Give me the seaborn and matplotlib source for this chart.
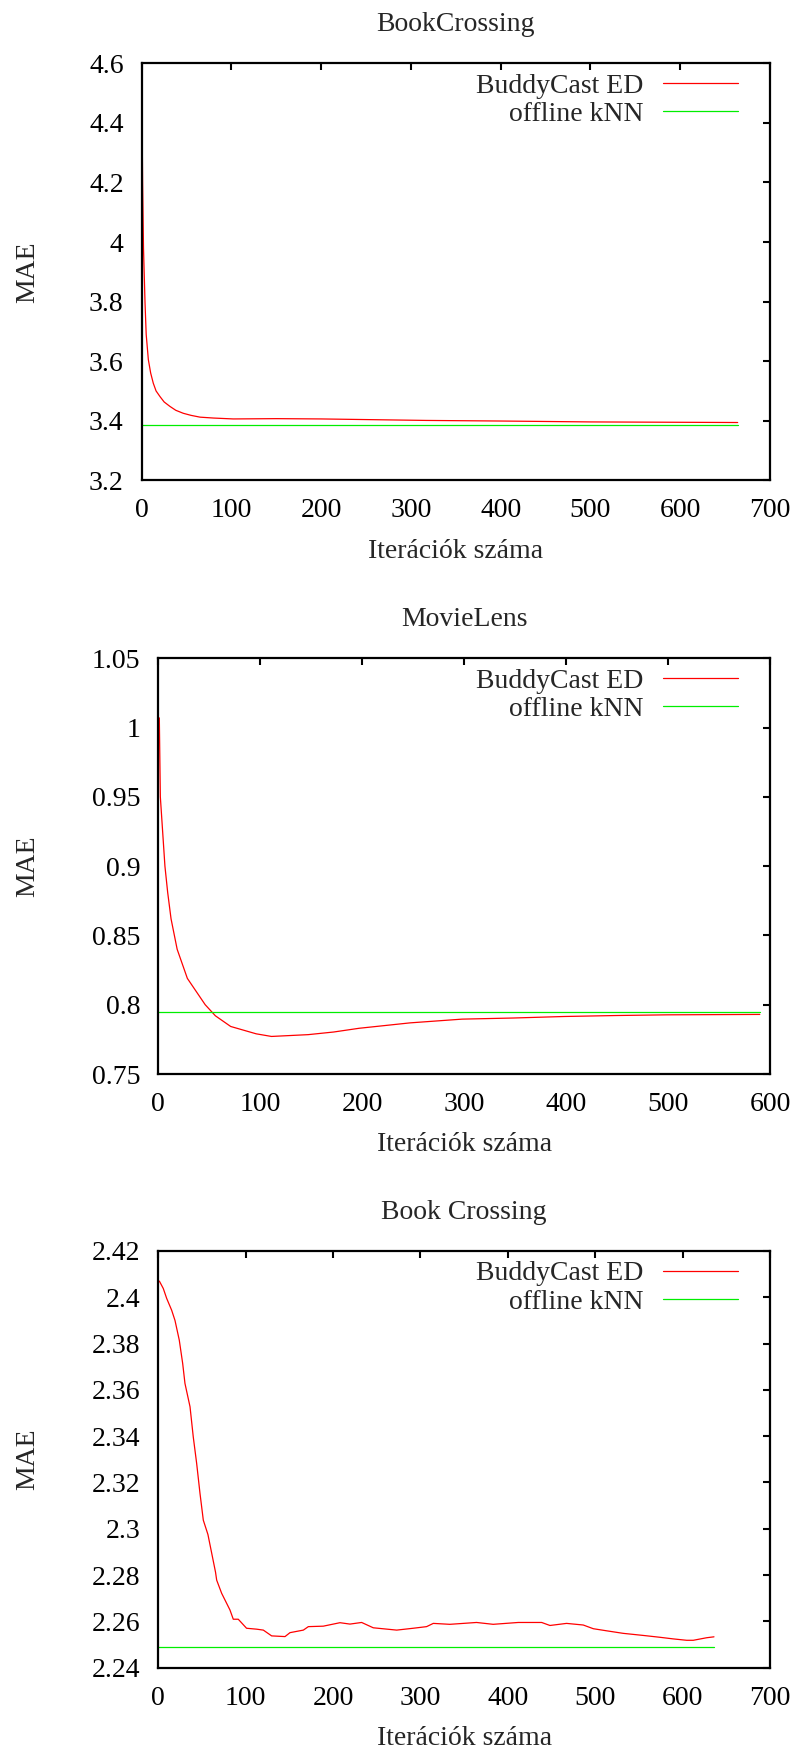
import matplotlib
matplotlib.use("Agg")
import matplotlib.pyplot as plt
from matplotlib.ticker import FuncFormatter, MultipleLocator
import pandas as pd
import seaborn as sns

# --- panel 1: BookCrossing ---
bc_iter = [0, 1, 2, 3.7, 5, 7.4, 10, 12.9, 16, 20.4, 25, 31.5, 38, 46.3, 55, 65, 80,
           102, 150, 200, 317, 400, 500, 664]
bc_mae = [4.55, 4.2, 3.98, 3.796, 3.69, 3.605, 3.56, 3.526, 3.50, 3.481, 3.463, 3.448,
          3.435, 3.425, 3.418, 3.412, 3.409, 3.406, 3.407, 3.406, 3.401, 3.399, 3.396, 3.394]
bc_knn = 3.386
bc_span = [0, 664]

# --- panel 2: MovieLens ---
ml_iter = [1, 2, 6.5, 9.2, 12.5, 18.5, 28.5, 46, 56, 71, 96, 111, 147, 172, 197, 247,
           298, 348, 398, 449, 499, 590]
ml_mae = [1.007, 0.95, 0.9, 0.881, 0.862, 0.840, 0.819, 0.800, 0.792, 0.7843, 0.779,
          0.7771, 0.7784, 0.7803, 0.783, 0.7869, 0.7896, 0.7904, 0.7915, 0.7922, 0.7927, 0.793]
ml_knn = 0.7944
ml_span = [0, 590]

# --- panel 3: Book Crossing ---
bx_iter = [1.2, 5.7, 9.6, 15.3, 19.1, 24, 27.9, 30.5, 36.3, 40, 43.9, 47.7, 51.5, 56.8,
           65.5, 66.8, 72.5, 82, 85.8, 91.5, 101, 112.6, 120.2, 129.7, 145, 150.7, 166,
           171.7, 188.8, 207.9, 219.3, 232.7, 246, 272.8, 291.7, 307, 314.7, 333.6, 349,
           364.2, 383.2, 411.9, 438.7, 448.2, 467.2, 486.3, 497.8, 513, 532, 554.9, 574,
           589.3, 604.6, 612.2, 627.5, 635.9]
bx_mae = [2.407, 2.4038, 2.3995, 2.3944, 2.390, 2.3815, 2.3714, 2.3628, 2.3527, 2.3397,
          2.3282, 2.3153, 2.3037, 2.2975, 2.2812, 2.2778, 2.2721, 2.2649, 2.2609, 2.2609,
          2.2570, 2.2566, 2.2562, 2.2537, 2.2534, 2.2551, 2.2562, 2.2577, 2.2579, 2.2594,
          2.2588, 2.2595, 2.2572, 2.2562, 2.2570, 2.2577, 2.2591, 2.2587, 2.2591, 2.2595,
          2.2587, 2.2595, 2.2595, 2.2582, 2.2591, 2.2584, 2.2568, 2.2559, 2.2548, 2.2539,
          2.2531, 2.2524, 2.2518, 2.2518, 2.2529, 2.2533]
bx_knn = 2.2488
bx_span = [0, 636]

titles = ["BookCrossing", "MovieLens", "Book Crossing"]
xlabel = "Iterációk száma"
ylabel = "MAE"
series_labels = ["BuddyCast ED", "offline kNN"]

sns.set_theme(style="white")
plt.rcParams['font.family'] = ['Liberation Serif', 'DejaVu Serif']
plt.rcParams['font.size'] = 20

fig = plt.figure(figsize=(8.01, 17.53), dpi=100)

# axes rectangles in pixels: left, top, right, bottom
boxes = [(141.7, 63.3, 770, 480.3), (158.3, 658.3, 770, 1074), (158.3, 1251, 770, 1667.6)]
panels = [
    (bc_iter, bc_mae, bc_knn, bc_span, (0, 700), (3.2, 4.6), 100, 0.2),
    (ml_iter, ml_mae, ml_knn, ml_span, (0, 600), (0.75, 1.05), 100, 0.05),
    (bx_iter, bx_mae, bx_knn, bx_span, (0, 700), (2.24, 2.42), 100, 0.02),
]

W, H = 801, 1753
fmt = FuncFormatter(lambda v, p: "%g" % round(v, 6))

for (l, t, r, b), (xs, ys, knn, span, xl, yl, xstep, ystep), title in zip(boxes, panels, titles):
    ax = fig.add_axes([l / W, 1 - b / H, (r - l) / W, (b - t) / H])
    df = pd.DataFrame({"iter": xs, "mae": ys})
    sns.lineplot(data=df, x="iter", y="mae", ax=ax, color="#ff0000", lw=0.9,
                 label=series_labels[0], estimator=None, sort=False)
    kdf = pd.DataFrame({"iter": span, "mae": [knn, knn]})
    sns.lineplot(data=kdf, x="iter", y="mae", ax=ax, color="#00ee00", lw=0.9,
                 label=series_labels[1], estimator=None, sort=False)
    ax.set_xlim(*xl)
    ax.set_ylim(*yl)
    ax.xaxis.set_major_locator(MultipleLocator(xstep))
    ax.yaxis.set_major_locator(MultipleLocator(ystep))
    ax.xaxis.set_major_formatter(fmt)
    ax.yaxis.set_major_formatter(fmt)
    ax.tick_params(direction="in", length=5, width=1.5, top=True, right=True,
                   labelsize=20, colors="black", pad=13)
    ax.tick_params(axis="y", pad=13)
    for s in ax.spines.values():
        s.set_linewidth(1.6)
        s.set_color("black")
    ax.set_title(title, fontsize=20, pad=23)
    ax.set_xlabel(xlabel, fontsize=20, labelpad=11)
    ax.set_ylabel(ylabel, fontsize=20)
    ax.yaxis.set_label_coords((40 - l) / (r - l), 0.5)
    leg = ax.legend(loc="upper right", markerfirst=False, frameon=False,
                    handlelength=2.7, handletextpad=0.7, labelspacing=0.1,
                    borderpad=0, borderaxespad=0, fontsize=20,
                    bbox_to_anchor=((737.7 - l) / (r - l), 1 - 10 / (b - t)))

fig.savefig("out.png", dpi=100)
